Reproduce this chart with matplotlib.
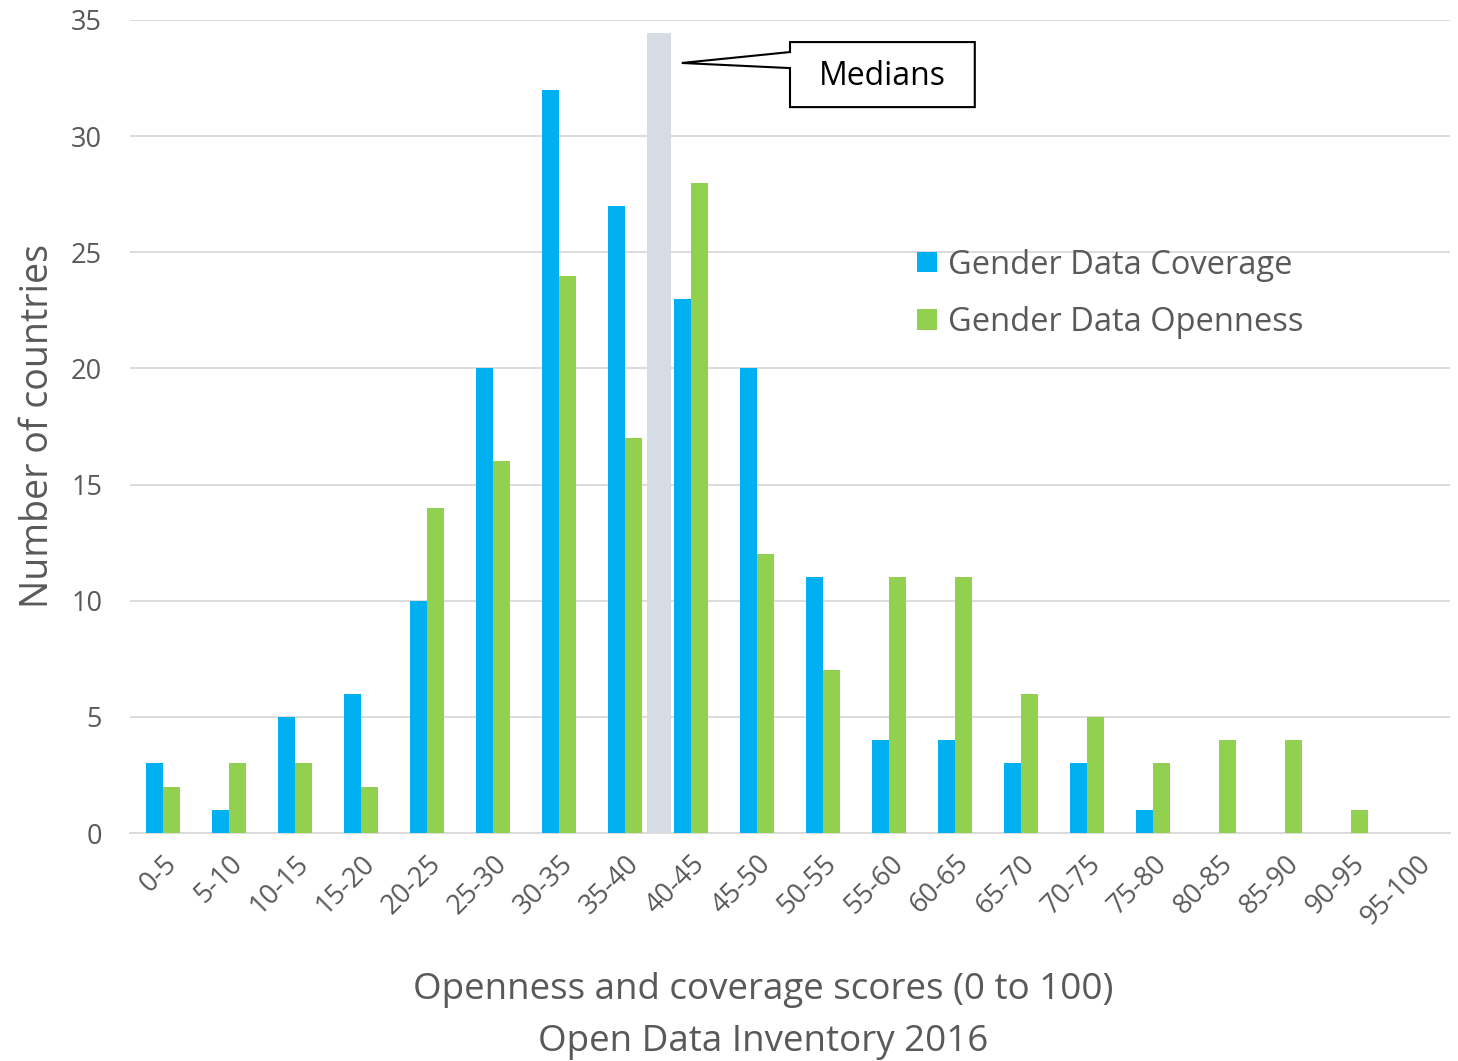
import matplotlib.pyplot as plt
from matplotlib.patches import Polygon
import numpy as np

plt.rcParams['font.family'] = ['Open Sans', 'DejaVu Sans']

# Score bins and number of countries per bin
bins = ['0-5', '5-10', '10-15', '15-20', '20-25', '25-30', '30-35', '35-40',
        '40-45', '45-50', '50-55', '55-60', '60-65', '65-70', '70-75',
        '75-80', '80-85', '85-90', '90-95', '95-100']
coverage = [3, 1, 5, 6, 10, 20, 32, 27, 23, 20, 11, 4, 4, 3, 3, 1, 0, 0, 0, 0]
openness = [2, 3, 3, 2, 14, 16, 24, 17, 28, 12, 7, 11, 11, 6, 5, 3, 4, 4, 1, 0]

# median band sits between the 35-40 and 40-45 bins
median_pos = 7.52
median_height = 34.45

blue = '#00B0F0'
green = '#92D050'
gray = '#595959'

fig = plt.figure(figsize=(14.58, 10.61), dpi=100)
ax = fig.add_axes([130 / 1458, 1 - 833 / 1061, 1320 / 1458, 813 / 1061])

x = np.arange(len(bins))
w = 0.25
ax.bar(x - w / 2 - 0.005, coverage, w, color=blue, label='Gender Data Coverage', zorder=3)
ax.bar(x + w / 2 + 0.005, openness, w, color=green, label='Gender Data Openness', zorder=3)
ax.bar(median_pos, median_height, 0.36, color='#D6DCE4', zorder=2)

# callout box for the median band
callout = Polygon([(9.5, 34.05), (12.3, 34.05), (12.3, 31.25), (9.5, 31.25),
                   (9.5, 32.93), (7.86, 33.15), (9.5, 33.62)],
                  closed=True, facecolor='white', edgecolor='black', lw=1.5,
                  zorder=5, clip_on=False)
ax.add_patch(callout)
ax.text(10.9, 32.55, 'Medians', ha='center', va='center', fontsize=23,
        color='black', zorder=6)

ax.set_xlim(-0.5, len(bins) - 0.5)
ax.set_ylim(0, 35)
ax.set_yticks(range(0, 36, 5))
ax.set_xticks(x)
ax.set_xticklabels(bins, rotation=45, ha='right', rotation_mode='anchor')
ax.tick_params(axis='both', length=0, labelsize=19.5, labelcolor=gray)
ax.tick_params(axis='x', pad=12)
ax.tick_params(axis='y', pad=20)
for lbl in ax.get_yticklabels():
    lbl.set_horizontalalignment('right')
ax.grid(axis='y', color='#D9D9D9', lw=1.3, zorder=0)
for s in ['top', 'right', 'left']:
    ax.spines[s].set_visible(False)
ax.spines['bottom'].set_color('#D9D9D9')
ax.spines['bottom'].set_linewidth(1.3)

ax.set_ylabel('Number of countries', fontsize=27, color=gray, labelpad=10)
ax.set_xlabel('Openness and coverage scores (0 to 100)\nOpen Data Inventory 2016',
              fontsize=26.5, color=gray, linespacing=1.58)
ax.xaxis.set_label_coords(0.48, -0.171)

ax.legend(loc='upper left', bbox_to_anchor=(0.574, 0.755), frameon=False,
          fontsize=23.5, labelcolor=gray, handlelength=0.6, handleheight=0.6,
          handletextpad=0.35, labelspacing=0.75)

fig.savefig('out.png', dpi=100)
